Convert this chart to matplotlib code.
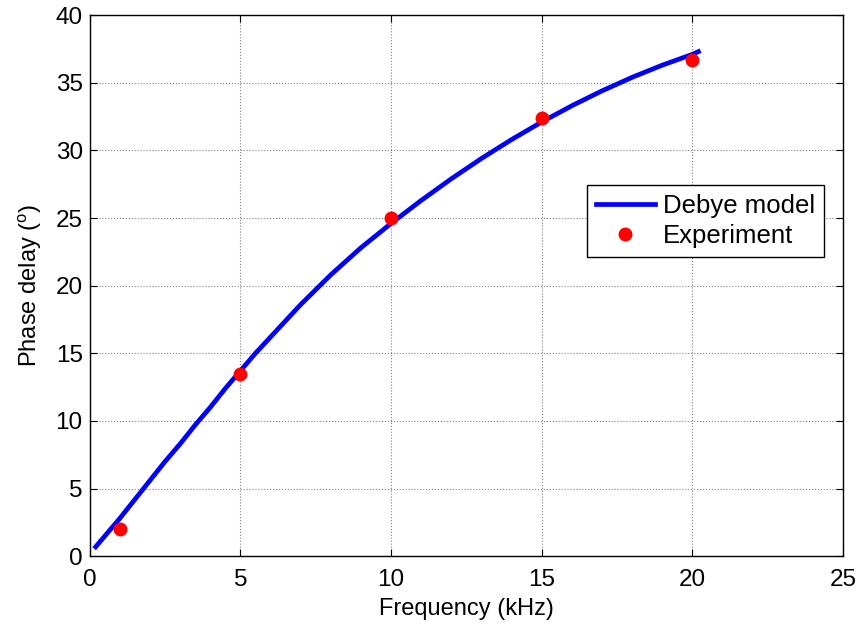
import matplotlib.pyplot as plt

plt.rcParams['font.family'] = ['Liberation Sans', 'DejaVu Sans']
plt.rcParams['mathtext.fontset'] = 'custom'
plt.rcParams['mathtext.rm'] = 'Liberation Sans'

# Debye model curve
freq_model = [0.2, 1, 1.5, 2, 2.5, 3, 3.5, 4, 4.5, 5, 5.5, 6, 6.5, 7, 7.5, 8,
              8.5, 9, 9.5, 10, 11, 12, 13, 14, 15, 16, 17, 18, 19, 20, 20.2]
phase_model = [0.7, 2.8, 4.2, 5.6, 7.0, 8.3, 9.7, 11.0, 12.4, 13.7, 15.0,
               16.2, 17.4, 18.6, 19.7, 20.8, 21.8, 22.8, 23.7, 24.6, 26.3,
               27.9, 29.4, 30.8, 32.1, 33.3, 34.4, 35.4, 36.3, 37.1, 37.3]

# measured points
freq_exp = [1, 5, 10, 15, 20]
phase_exp = [2.0, 13.5, 25.0, 32.4, 36.7]

xticks = [0, 5, 10, 15, 20, 25]
yticks = [0, 5, 10, 15, 20, 25, 30, 35, 40]

fig = plt.figure(figsize=(8.62, 6.3), dpi=100)
ax = fig.add_axes([0.104, 0.117, 0.874, 0.859])

ax.plot(freq_model, phase_model, color='blue', lw=3.4, label='Debye model', zorder=3)
ax.plot(freq_exp, phase_exp, 'o', color='red', ms=9, label='Experiment', zorder=4)

ax.set_xlim(0, 25)
ax.set_ylim(0, 40)
ax.set_xticks(xticks)
ax.set_yticks(yticks)
ax.grid(True, color='#808080', linestyle=':', linewidth=0.8)
ax.set_axisbelow(True)
ax.tick_params(direction='in', top=True, right=True, labelsize=17.5, length=5)
ax.tick_params(axis='x', pad=9)
ax.tick_params(axis='y', pad=5)
for s in ax.spines.values():
    s.set_linewidth(1.0)

ax.set_xlabel('Frequency (kHz)', fontsize=17, labelpad=5)
ax.set_ylabel(r'Phase delay ($^\mathrm{o}$)', fontsize=17, labelpad=8)

leg = ax.legend(loc='center', bbox_to_anchor=(0.817, 0.62), fontsize=18.5,
                fancybox=False, framealpha=1, edgecolor='black',
                handlelength=2.3, borderpad=0.35, labelspacing=0.25,
                handletextpad=0.3)
leg.get_frame().set_linewidth(1.0)

fig.savefig('out.png', dpi=100)
